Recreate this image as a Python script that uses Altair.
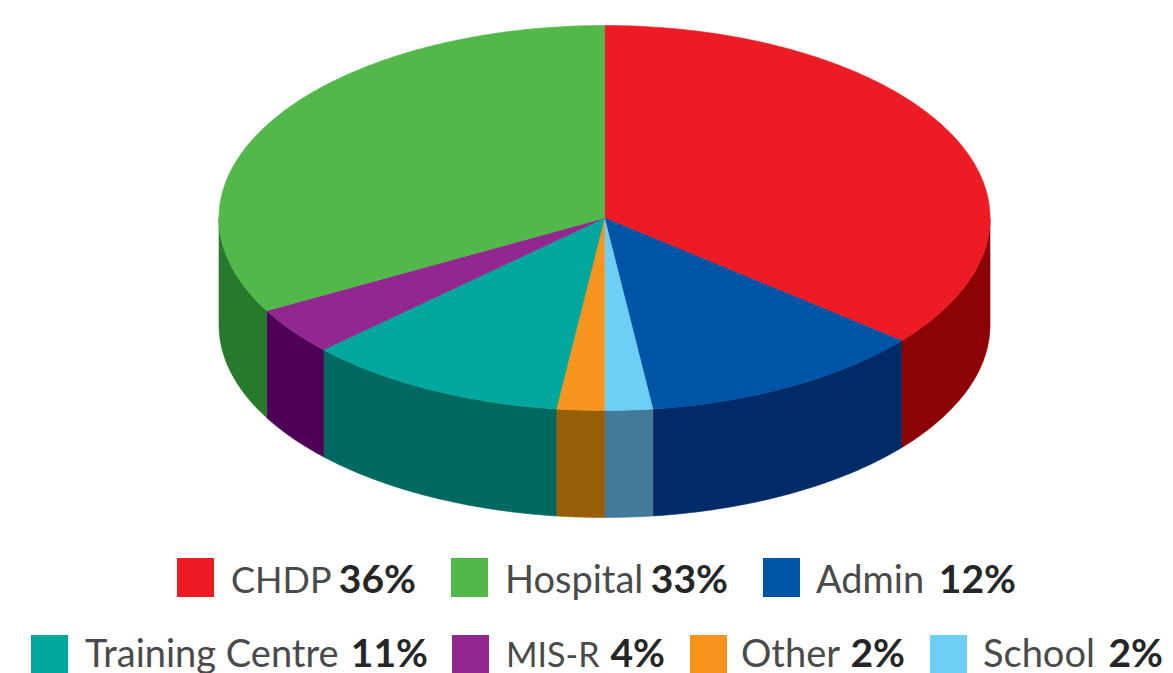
import math
import altair as alt

# ---- data ----
categories = ["CHDP", "Hospital", "Admin", "Training Centre", "MIS-R", "Other", "School"]
shares = [36, 33, 12, 11, 4, 2, 2]
top_colors = ["#ed1c24", "#52b84a", "#0054a6", "#00a79d", "#92278f", "#f7941d", "#6dcff6"]
side_colors = ["#8b0304", "#277a2b", "#002b66", "#00695f", "#4f0058", "#975f07", "#437a99"]
clockwise_order = ["CHDP", "Admin", "School", "Other", "Training Centre", "MIS-R", "Hospital"]

# ---- layout (pixels on the canvas; the page margin is 8px) ----
W, H = 1157, 665
OFF = 8
CX, CY, RX, RY, DEPTH = 604.5, 218, 385.5, 192.5, 107
FONT = "Lato"
VALUE_FS = 39
name_fs = [36, 38, 38, 38, 34, 38, 38]
swatch_x = [177, 451, 763, 31, 452, 690, 930]
row_of = [0, 0, 0, 1, 1, 1, 1]
row_swatch_top = [558, 635]
row_baseline = [593, 667]
SWATCH_W, SWATCH_H = 37, 39
name_x = [231, 505, 816, 85, 506, 741, 983]
value_end = [416, 728, 1016, 428, 665, 905, 1163]


def pt(theta, drop=0.0):
    return [math.sin(theta), (-math.cos(theta) * RY + drop) / RX]


def arc(a, b, drop=0.0):
    n = max(2, int(abs(b - a) / 0.01))
    return [pt(a + (b - a) * i / n, drop) for i in range(n + 1)]


def feature(ring, color, name):
    ring = ring + [ring[0]]
    return {
        "type": "Feature",
        "properties": {"color": color, "name": name},
        "geometry": {"type": "Polygon", "coordinates": [ring]},
    }


sides, tops = [], []
acc = 0.0
for name in clockwise_order:
    i = categories.index(name)
    a = acc / 100 * 2 * math.pi
    acc += shares[i]
    b = acc / 100 * 2 * math.pi
    tops.append(feature([[0.0, 0.0]] + arc(a, b), top_colors[i], name))
    lo, hi = max(a, math.pi / 2), min(b, 3 * math.pi / 2)
    if hi > lo:
        sides.append(feature(arc(lo, hi) + arc(hi, lo, DEPTH), side_colors[i], name))


def geo(features):
    return (
        alt.Chart(alt.Data(values=features))
        .mark_geoshape(strokeWidth=0.6)
        .encode(
            fill=alt.Fill("properties.color:N", scale=None, legend=None),
            stroke=alt.Stroke("properties.color:N", scale=None, legend=None),
        )
        .project(type="identity", scale=RX, translate=[CX - OFF, CY - OFF])
    )


legend_rows = []
for i, c in enumerate(categories):
    r = row_of[i]
    legend_rows.append(
        {
            "name": c,
            "value": f"{shares[i]}%",
            "color": top_colors[i],
            "x0": swatch_x[i] - OFF,
            "x1": swatch_x[i] + SWATCH_W - OFF,
            "y0": row_swatch_top[r] - OFF,
            "y1": row_swatch_top[r] + SWATCH_H - OFF,
            "nx": name_x[i] - OFF,
            "vx": value_end[i] - OFF,
            "by": row_baseline[r] - OFF,
            "fs": name_fs[i],
        }
    )

legend_data = alt.Data(values=legend_rows)
px = dict(scale=None, axis=None)
swatches = (
    alt.Chart(legend_data)
    .mark_rect()
    .encode(
        x=alt.X("x0:Q", **px),
        x2="x1:Q",
        y=alt.Y("y0:Q", **px),
        y2="y1:Q",
        fill=alt.Fill("color:N", scale=None, legend=None),
    )
)
names = (
    alt.Chart(legend_data)
    .mark_text(align="left", baseline="alphabetic", font=FONT, color="#4a4a4a")
    .encode(
        x=alt.X("nx:Q", **px),
        y=alt.Y("by:Q", **px),
        text="name:N",
        size=alt.Size("fs:Q", scale=None, legend=None),
    )
)
values = (
    alt.Chart(legend_data)
    .mark_text(align="right", baseline="alphabetic", font=FONT, fontSize=VALUE_FS, fontWeight="bold", color="#262626")
    .encode(x=alt.X("vx:Q", **px), y=alt.Y("by:Q", **px), text="value:N")
)

chart = (
    alt.layer(geo(sides), geo(tops), swatches, names, values)
    .properties(width=W, height=H, padding=0, background="white", autosize=alt.AutoSizeParams(type="none"))
    .configure_view(stroke=None)
)
chart.save("out.html", embed_options={"renderer": "svg", "actions": False})
